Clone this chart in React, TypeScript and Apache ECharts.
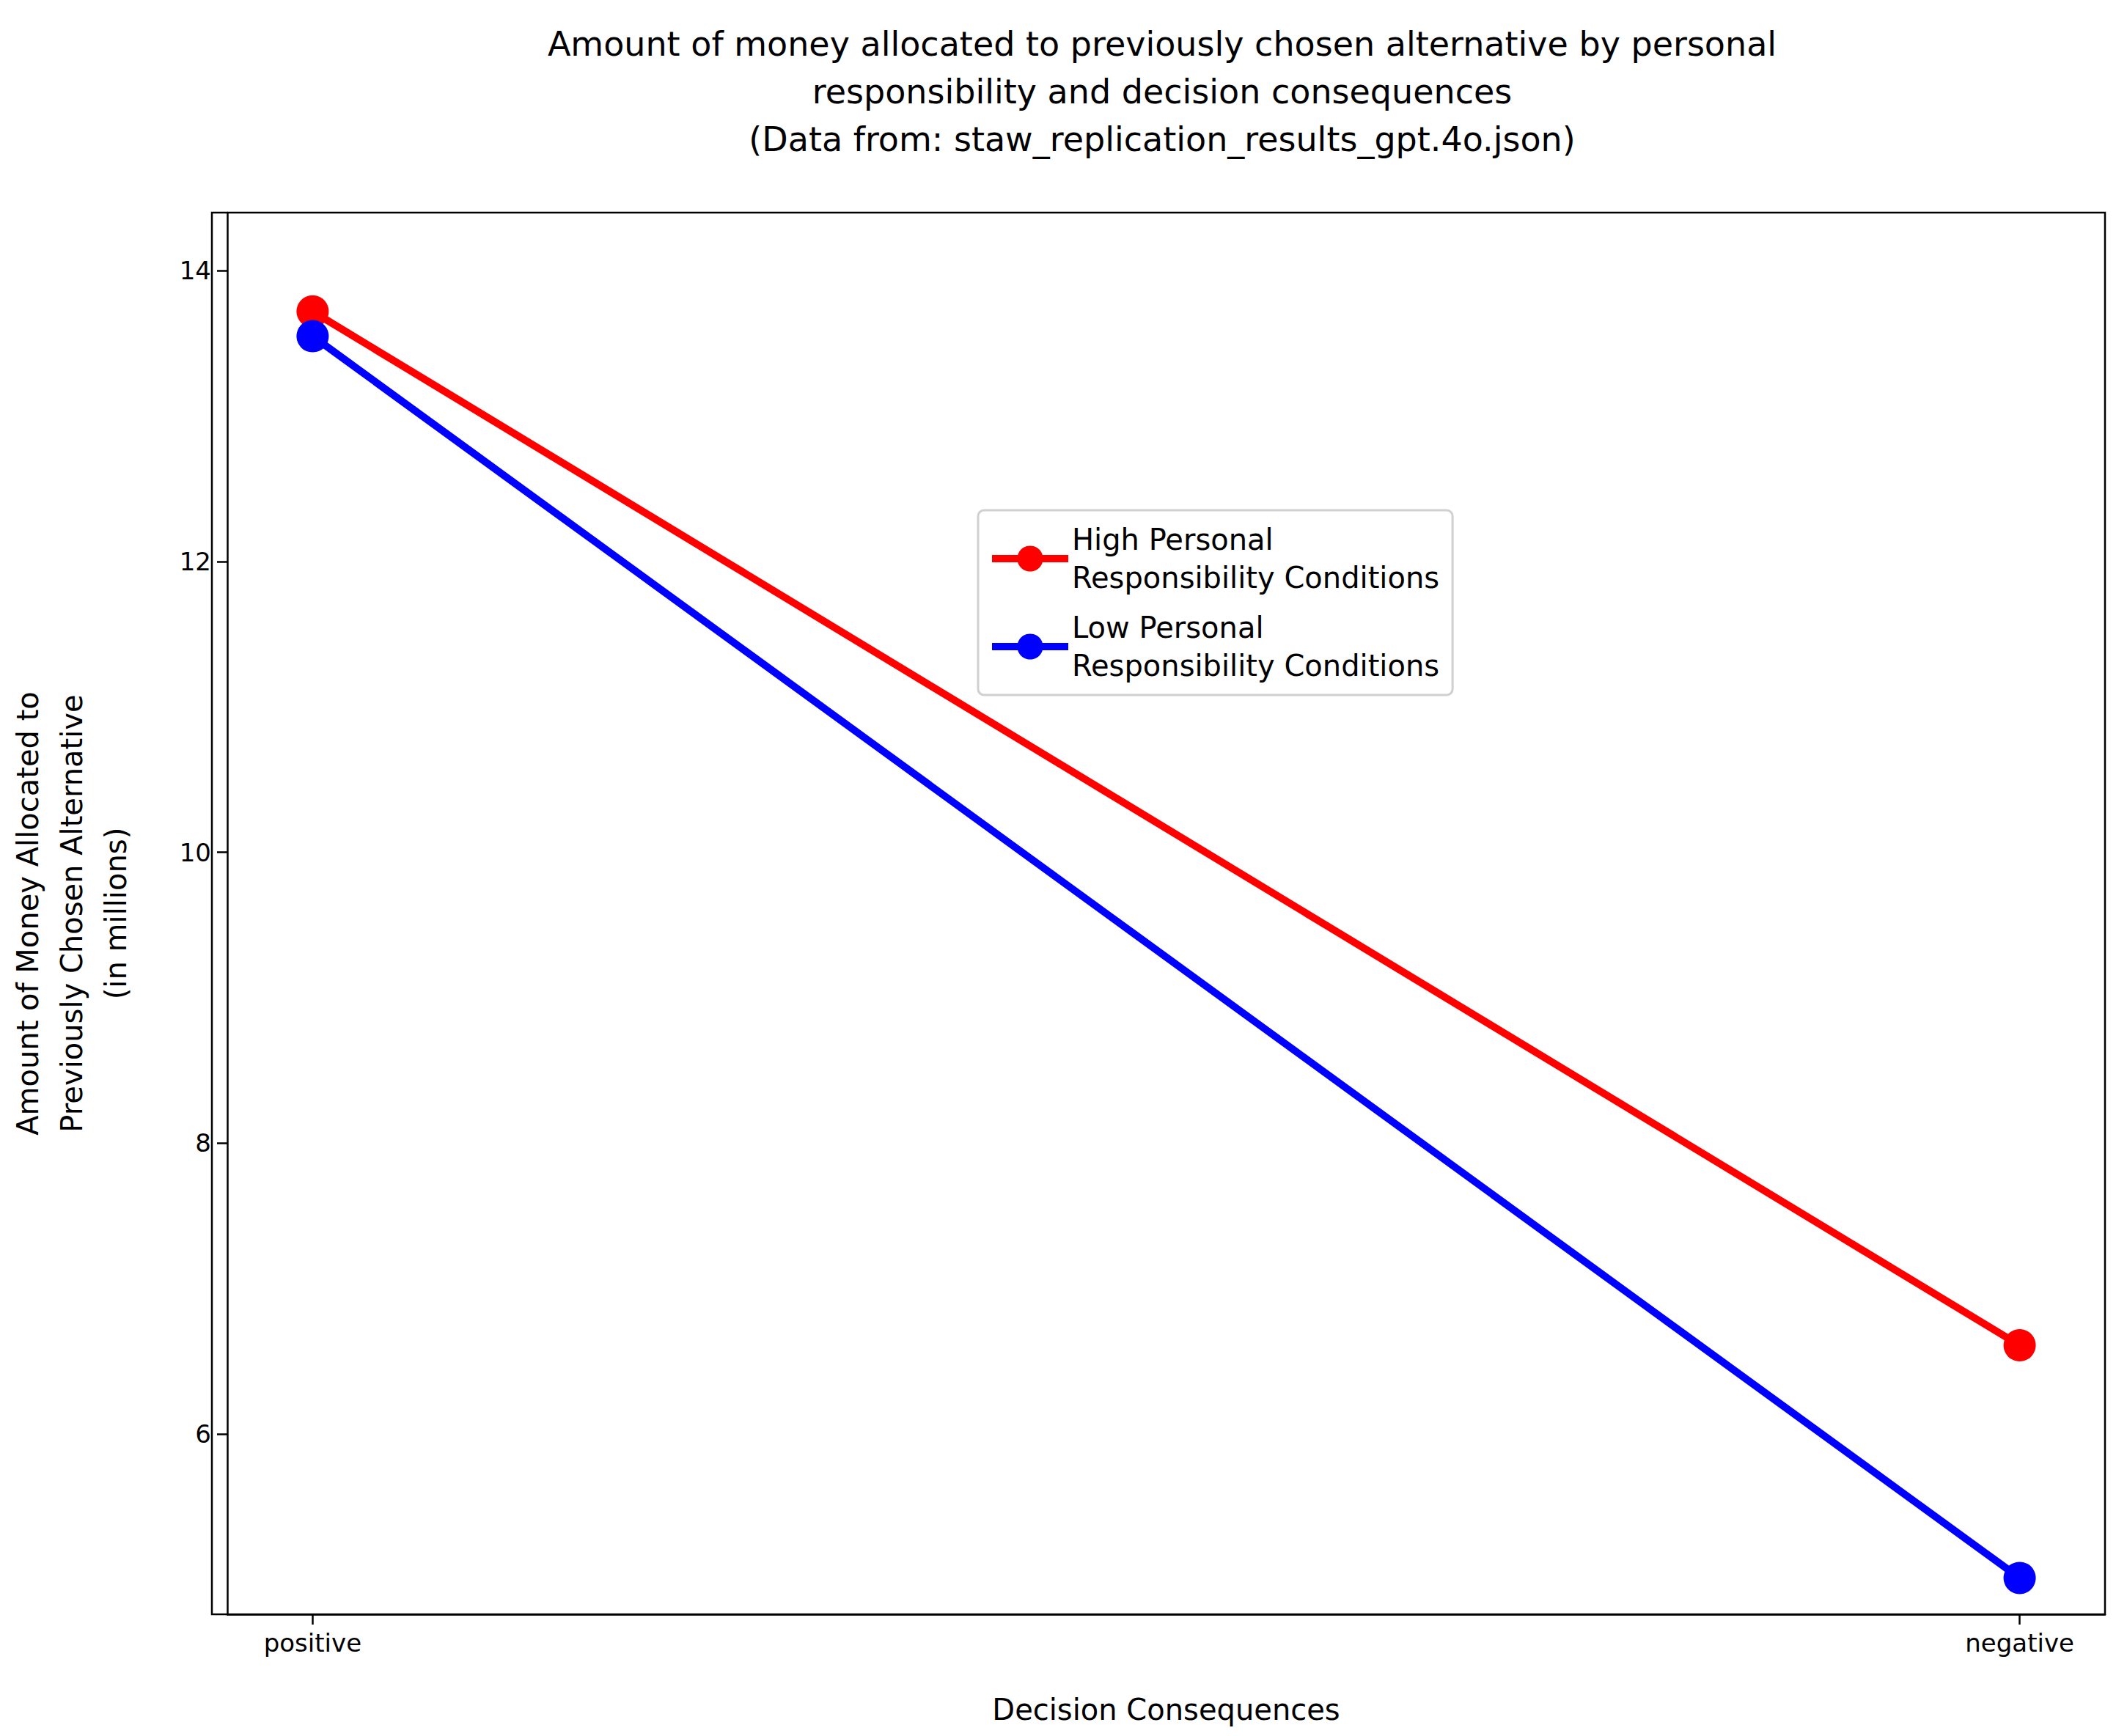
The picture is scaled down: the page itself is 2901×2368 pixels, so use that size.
import React, { useEffect, useRef } from "react";
import * as echarts from "echarts";

const categories = ["positive", "negative"];
const highValues = [13.72, 6.61];
const lowValues = [13.55, 5.01];
const yTicks = [6, 8, 10, 12, 14];
const seriesNames = ["High Personal\nResponsibility Conditions", "Low Personal\nResponsibility Conditions"];
const colors = ["#ff0000", "#0000ff"];

export default function App() {
  const ref = useRef<HTMLDivElement>(null);
  useEffect(() => {
    const chart = echarts.init(ref.current!, null, { renderer: "svg" });
    const font = "DejaVu Sans";
    const mk = (name: string, vals: number[], color: string) => ({
      name,
      type: "line",
      data: vals.map((v, i) => [i, v]),
      lineStyle: { color, width: 10 },
      itemStyle: { color },
      symbol: "circle",
      symbolSize: 44,
      showSymbol: true,
    });
    chart.setOption({
      animation: false,
      backgroundColor: "#fff",
      textStyle: { fontFamily: font },
      title: {
        text: "Amount of money allocated to previously chosen alternative by personal\nresponsibility and decision consequences\n(Data from: staw_replication_results_gpt.4o.json)",
        left: 1580,
        textAlign: "center",
        top: 22,
        textStyle: { fontFamily: font, fontSize: 46, fontWeight: "normal", color: "#000", lineHeight: 65 },
      },
      grid: { left: 289, top: 290, width: 2582, height: 1912 },
      legend: {
        left: 1334,
        top: 696,
        orient: "vertical",
        data: seriesNames,
        itemWidth: 104,
        itemHeight: 44,
        itemGap: 16,
        padding: [14, 18, 14, 14],
        borderColor: "#d0d0d0",
        borderWidth: 3,
        borderRadius: 8,
        backgroundColor: "#fff",
        lineStyle: { width: 10 },
        textStyle: { fontFamily: font, fontSize: 40, lineHeight: 52, color: "#000" },
      },
      xAxis: {
        type: "value",
        min: -0.05,
        max: 1.05,
        interval: 0.05,
        name: "Decision Consequences",
        nameLocation: "middle",
        nameGap: 110,
        nameTextStyle: { fontFamily: font, fontSize: 40, color: "#000" },
        axisLine: { show: true, onZero: false, lineStyle: { color: "#000", width: 2.5 } },
        axisTick: { show: true, customValues: [0, 1], length: 14, lineStyle: { color: "#000", width: 2.5 } },
        axisLabel: {
          customValues: [0, 1],
          formatter: (v: number) => categories[Math.round(v)] ?? "",
          fontFamily: font,
          fontSize: 34,
          color: "#000",
          margin: 22,
        },
        splitLine: { show: false },
      },
      yAxis: {
        type: "value",
        min: 4.76,
        max: 14.4,
        name: "Amount of Money Allocated to\nPreviously Chosen Alternative\n(in millions)",
        nameLocation: "middle",
        nameGap: 122,
        nameTextStyle: { fontFamily: font, fontSize: 40, color: "#000", lineHeight: 60 },
        axisLine: { show: true, onZero: false, lineStyle: { color: "#000", width: 2.5 } },
        axisTick: { show: true, customValues: yTicks, length: 14, lineStyle: { color: "#000", width: 2.5 } },
        axisLabel: { customValues: yTicks, fontFamily: font, fontSize: 34, color: "#000", margin: 22 },
        splitLine: { show: false },
      },
      graphic: [
        {
          type: "rect",
          shape: { x: 289, y: 290, width: 2582, height: 1912 },
          style: { fill: "none", stroke: "#000", lineWidth: 2.5 },
          silent: true,
          z: 100,
        },
      ],
      series: [mk(seriesNames[0], highValues, colors[0]), mk(seriesNames[1], lowValues, colors[1])],
    });
    return () => chart.dispose();
  }, []);
  return <div ref={ref} style={{ position: "absolute", left: 0, top: 0, width: 2901, height: 2368 }} />;
}
